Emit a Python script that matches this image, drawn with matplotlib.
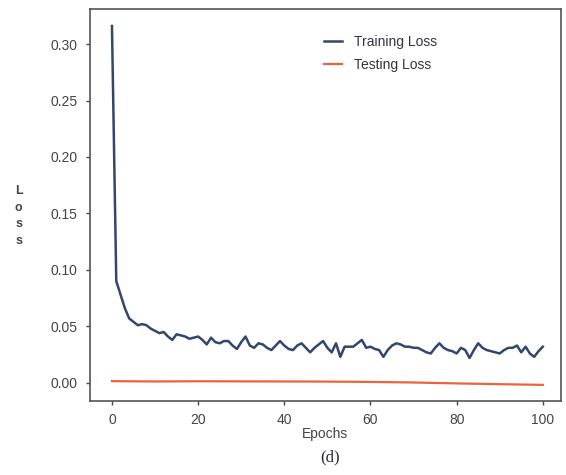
import numpy as np
import matplotlib
matplotlib.use('Agg')
import matplotlib.pyplot as plt

# training loss, one value per epoch 0..100
epochs = list(range(0, 101))
train_loss = [0.316, 0.090, 0.078, 0.066, 0.057, 0.054, 0.051, 0.052, 0.051, 0.048,
              0.046, 0.044, 0.045, 0.041, 0.038, 0.043, 0.042, 0.041, 0.039, 0.040,
              0.041, 0.038, 0.034, 0.040, 0.036, 0.035, 0.037, 0.037, 0.033, 0.030,
              0.036, 0.041, 0.033, 0.031, 0.035, 0.034, 0.031, 0.029, 0.033, 0.037,
              0.033, 0.030, 0.029, 0.033, 0.035, 0.031, 0.027, 0.031, 0.034, 0.037,
              0.031, 0.027, 0.035, 0.023, 0.032, 0.032, 0.032, 0.035, 0.038, 0.031,
              0.032, 0.030, 0.029, 0.023, 0.029, 0.033, 0.035, 0.034, 0.032, 0.032,
              0.031, 0.031, 0.029, 0.027, 0.026, 0.031, 0.035, 0.031, 0.029, 0.028,
              0.026, 0.031, 0.029, 0.022, 0.029, 0.035, 0.031, 0.029, 0.028, 0.027,
              0.026, 0.029, 0.031, 0.031, 0.033, 0.027, 0.032, 0.026, 0.023, 0.028,
              0.032]

test_epochs = [0, 10, 20, 30, 40, 50, 60, 70, 80, 90, 100]
test_loss = [0.0015, 0.0012, 0.0014, 0.0013, 0.0012, 0.0011, 0.0008, 0.0003, -0.0005, -0.0012, -0.0018]

xticks = [0, 20, 40, 60, 80, 100]
yticks = [0.00, 0.05, 0.10, 0.15, 0.20, 0.25, 0.30]

plt.rcParams['font.family'] = ['Liberation Sans', 'DejaVu Sans']

fig = plt.figure(figsize=(5.66, 4.75), dpi=100)
ax = fig.add_axes([0.159, 0.156, 0.832, 0.825])

ax.plot(epochs, train_loss, color='#34466e', linewidth=1.8, label='Training Loss')
ax.plot(test_epochs, test_loss, color='#e8643a', linewidth=1.6, label='Testing Loss')

ax.set_xlim(-5.1, 104.2)
ax.set_ylim(-0.016, 0.331)
ax.set_xticks(xticks)
ax.set_xticklabels([str(t) for t in xticks])
ax.set_yticks(yticks)
ax.set_yticklabels(['%.2f' % t for t in yticks])
ax.tick_params(labelsize=10, colors='#444444', length=3, width=1, pad=6)
for s in ax.spines.values():
    s.set_color('#555555')
    s.set_linewidth(1.2)

ax.set_xlabel('Epochs', fontsize=10, color='#444444', labelpad=0)
fig.text(0.033, 0.545, 'L\no\ns\ns', fontsize=9, fontweight='bold', color='#4a3f5c',
         ha='center', va='center', linespacing=1.5)

leg = ax.legend(loc='upper left', bbox_to_anchor=(0.47, 0.965), frameon=False,
                fontsize=10, handlelength=1.3, handletextpad=0.9, labelspacing=0.6)
for t in leg.get_texts():
    t.set_color('#333344')

fig.text(0.583, 0.038, '(d)', fontsize=12, family='Liberation Serif', color='#2a2a40',
         ha='center', va='center')

fig.savefig('out.png', dpi=100)
